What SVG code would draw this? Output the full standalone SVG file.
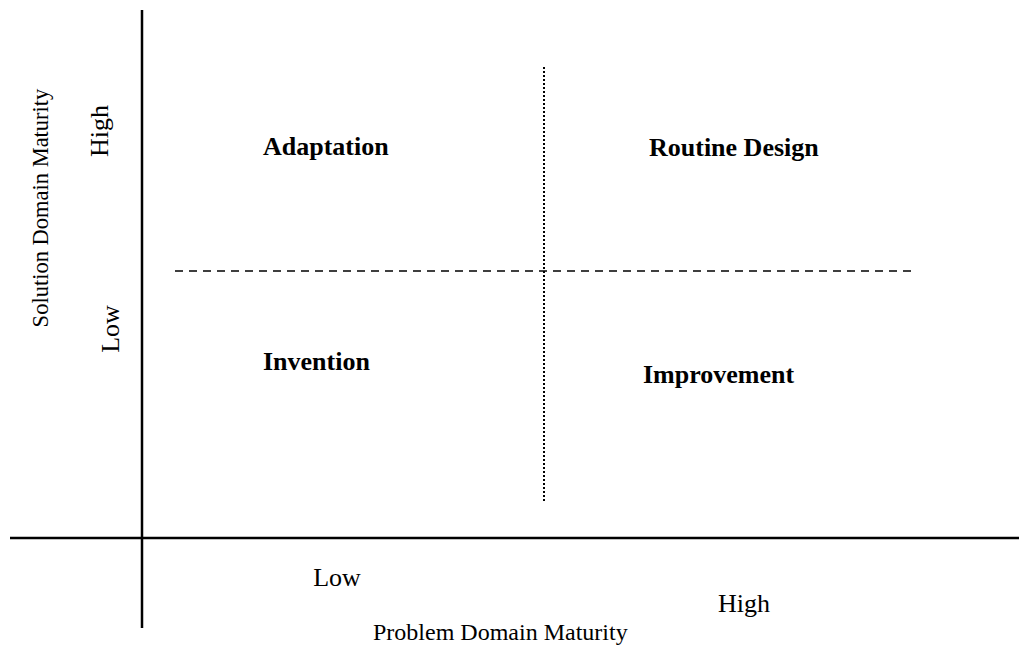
<svg xmlns="http://www.w3.org/2000/svg" width="1019" height="645" viewBox="0 0 1019 645">
<style>
.ax{stroke:#000;stroke-width:2.5;fill:none}
.t{font-family:"Liberation Serif","Times New Roman",serif;fill:#000}
.q{font-size:26px;font-weight:bold}
.l{font-size:26px}
</style>
<rect width="1019" height="645" fill="#fff"/>
<g id="connectors">
<line class="ax" x1="142" y1="10" x2="142" y2="628"/>
<line class="ax" x1="10" y1="538" x2="1019" y2="538"/>
<line x1="175" y1="271" x2="912" y2="271" stroke="#000" stroke-width="1.5" stroke-dasharray="8,6"/>
<line x1="544" y1="67" x2="544" y2="501" stroke="#000" stroke-width="2" stroke-dasharray="2,2"/>
</g>
<g id="adaptation"><text class="t q" x="263" y="155">Adaptation</text></g>
<g id="routine"><text class="t q" x="649" y="156">Routine Design</text></g>
<g id="invention"><text class="t q" x="263" y="370">Invention</text></g>
<g id="improvement"><text class="t q" x="643" y="383">Improvement</text></g>
<g id="xlabels">
<text class="t l" x="337" y="586" text-anchor="middle">Low</text>
<text class="t l" x="744" y="612" text-anchor="middle">High</text>
<text class="t" x="373" y="640" font-size="24">Problem Domain Maturity</text>
</g>
<g id="ylabels">
<text class="t" transform="translate(48,208) rotate(-90)" text-anchor="middle" font-size="22.5">Solution Domain Maturity</text>
<text class="t l" transform="translate(108,131) rotate(-90)" text-anchor="middle">High</text>
<text class="t l" transform="translate(119,329) rotate(-90)" text-anchor="middle">Low</text>
</g>
</svg>
